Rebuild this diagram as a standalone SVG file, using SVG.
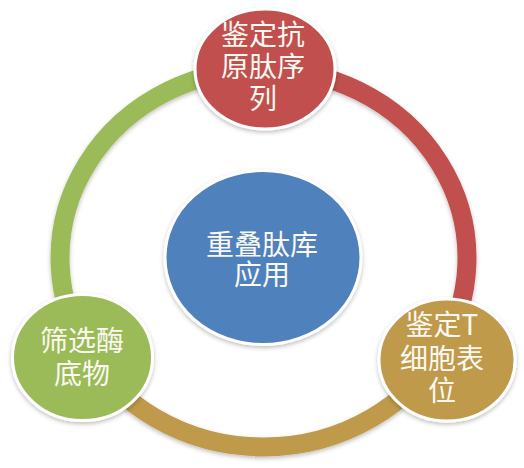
<svg xmlns="http://www.w3.org/2000/svg" width="524" height="468" viewBox="0 0 524 468">
  <defs>
    <filter id="shadow" x="-20%" y="-20%" width="140%" height="140%">
      <feDropShadow dx="0" dy="2" stdDeviation="2" flood-color="#000" flood-opacity="0.25"/>
    </filter>
  </defs>
  <style>
    .ring { fill: none; stroke-width: 19; filter: url(#shadow); }
    .node { stroke: #ffffff; stroke-width: 3; filter: url(#shadow); }
    .label { font-family: "Noto Sans CJK SC", "DejaVu Sans", sans-serif; font-size: 28px; fill: #FAF8F0; text-anchor: middle; dominant-baseline: central; }
  </style>
  <rect width="524" height="468" fill="#ffffff"/>
  <g id="connectors">
    <path class="ring" stroke="#C0504D" d="M 263.5 69 A 203.5 189 0 0 1 439.7 352.5"/>
    <path class="ring" stroke="#BF9A4C" d="M 439.7 352.5 A 203.5 189 0 0 1 87.3 352.5"/>
    <path class="ring" stroke="#9BBB59" d="M 87.3 352.5 A 203.5 189 0 0 1 263.5 69"/>
  </g>
  <g id="center">
    <ellipse class="node" cx="263" cy="257.5" rx="98" ry="87" fill="#4F81BD"/>
    <text class="label"><tspan x="262" y="242.5">重叠肽库</tspan><tspan x="262" y="273">应用</tspan></text>
  </g>
  <g id="node-top">
    <ellipse class="node" cx="265" cy="69" rx="70" ry="60" fill="#C0504D"/>
    <text class="label"><tspan x="263" y="33">鉴定抗</tspan><tspan x="263" y="65">原肽序</tspan><tspan x="263" y="97">列</tspan></text>
  </g>
  <g id="node-right">
    <ellipse class="node" cx="447" cy="360" rx="68" ry="61" fill="#BF9A4C"/>
    <text class="label"><tspan x="442" y="323">鉴定T</tspan><tspan x="442" y="357">细胞表</tspan><tspan x="442" y="389">位</tspan></text>
  </g>
  <g id="node-left">
    <ellipse class="node" cx="82.5" cy="357.5" rx="70" ry="63" fill="#9BBB59"/>
    <text class="label"><tspan x="82" y="339">筛选酶</tspan><tspan x="82" y="372">底物</tspan></text>
  </g>
</svg>
